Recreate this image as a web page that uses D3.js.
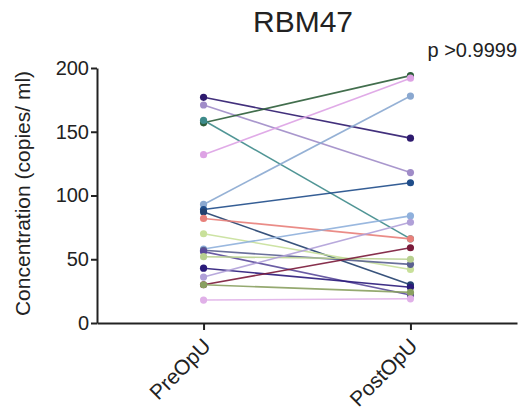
<!DOCTYPE html>
<html>
<head>
<meta charset="utf-8">
<script src="https://cdn.jsdelivr.net/npm/d3@7"></script>
<style>
  body { margin: 0; background: #fff; }
  svg text { font-family: "Liberation Sans", Arial, sans-serif; fill: #222; }
</style>
</head>
<body>
<div id="chart"></div>
<script>
// paired samples
var groups = ["PreOpU", "PostOpU"];
var preValues  = [177, 171, 157, 159, 132, 93, 89, 87, 82, 70, 58, 57, 56, 52, 43, 36, 30, 30, 18];
var postValues = [145, 118, 194, 66, 192, 178, 110, 30, 66, 42, 84, 46, 22, 50, 28, 79, 59, 24, 19];
var pairColors = ["#2e1a6e", "#a08cc8", "#2d5e3a", "#3d8a8a", "#dda2e4", "#8aa8d0", "#1f4d8a",
                  "#22406e", "#e8807a", "#c8e09a", "#8fb0dc", "#5a6090", "#5a4a9a", "#b8d090",
                  "#2a1a7a", "#b0a0d8", "#7a1a3a", "#8aa060", "#e0b0e8"];
var yTicks = [0, 50, 100, 150, 200];

var width = 519, height = 415;
var margin = {top: 68, right: 2, bottom: 92, left: 97};

var svg = d3.select("#chart").append("svg")
    .attr("width", width)
    .attr("height", height);

var x = d3.scalePoint()
    .domain(groups)
    .range([margin.left, width - margin.right])
    .padding(0.515);

var y = d3.scaleLinear()
    .domain([0, 200])
    .range([height - margin.bottom, margin.top]);

// pairs
var pairs = preValues.map(function(v, i) {
    return {pre: v, post: postValues[i], color: pairColors[i]};
});

var g = svg.append("g");
pairs.forEach(function(p) {
    g.append("line")
        .attr("x1", x("PreOpU")).attr("y1", y(p.pre))
        .attr("x2", x("PostOpU")).attr("y2", y(p.post))
        .attr("stroke", p.color)
        .attr("stroke-opacity", 0.9)
        .attr("stroke-width", 1.6);
    g.append("circle")
        .attr("cx", x("PreOpU")).attr("cy", y(p.pre))
        .attr("r", 3.6).attr("fill", p.color);
    g.append("circle")
        .attr("cx", x("PostOpU")).attr("cy", y(p.post))
        .attr("r", 3.6).attr("fill", p.color);
});

// axes
var yAxis = d3.axisLeft(y).tickValues(yTicks).tickSize(6).tickPadding(2).tickSizeOuter(0);
var yG = svg.append("g")
    .attr("transform", "translate(" + margin.left + ",0)")
    .call(yAxis);
yG.selectAll("text").style("font-size", "20px");

var xAxis = d3.axisBottom(x).tickSize(7).tickSizeOuter(0).tickFormat("");
var xG = svg.append("g")
    .attr("transform", "translate(0," + y(0) + ")")
    .call(xAxis);

svg.selectAll(".domain, .tick line")
    .attr("stroke", "#222")
    .attr("stroke-width", 2);

// rotated group labels
groups.forEach(function(name) {
    svg.append("text")
        .attr("transform", "translate(" + (x(name) - 2) + "," + (y(0) + 14) + ") rotate(-45)")
        .attr("text-anchor", "end")
        .attr("dy", "0.7em")
        .style("font-size", "21px")
        .text(name);
});

svg.append("text")
    .attr("transform", "translate(30," + ((y(0) + y(200)) / 2 - 2) + ") rotate(-90)")
    .attr("text-anchor", "middle")
    .style("font-size", "21px")
    .text("Concentration (copies/ ml)");

svg.append("text")
    .attr("x", 303).attr("y", 32)
    .attr("text-anchor", "middle")
    .style("font-size", "30px")
    .text("RBM47");

svg.append("text")
    .attr("x", 517).attr("y", 57)
    .attr("text-anchor", "end")
    .style("font-size", "20px")
    .text("p >0.9999");
</script>
</body>
</html>
